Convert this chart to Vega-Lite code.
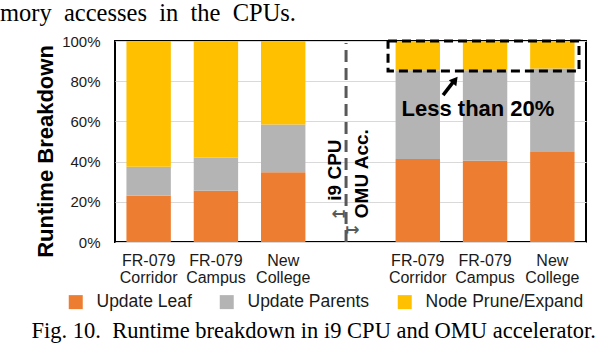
{
  "$schema": "https://vega.github.io/schema/vega-lite/v6.json",
  "width": 471,
  "height": 201,
  "autosize": {"type": "none"},
  "padding": {"left": 115, "top": 41, "right": 16, "bottom": 102},
  "background": "white",
  "title": {
    "text": "mory\u00a0 accesses\u00a0 in\u00a0 the\u00a0 CPUs.",
    "anchor": "start",
    "frame": "group",
    "font": "Liberation Serif",
    "fontSize": 24.5,
    "fontWeight": "normal",
    "color": "#000000",
    "baseline": "alphabetic",
    "dx": -115,
    "offset": 11,
    "dy": 22
  },
  "config": {
    "font": "Liberation Sans",
    "view": {"stroke": "#000000", "strokeWidth": 2}
  },
  "datasets": {
    "bars": [
      {"slot": "CPU|FR-079|Corridor", "part": "Update Leaf", "ord": 1, "value": 23},
      {"slot": "CPU|FR-079|Corridor", "part": "Update Parents", "ord": 2, "value": 14.5},
      {"slot": "CPU|FR-079|Corridor", "part": "Node Prune/Expand", "ord": 3, "value": 62.5},
      {"slot": "CPU|FR-079|Campus", "part": "Update Leaf", "ord": 1, "value": 25.5},
      {"slot": "CPU|FR-079|Campus", "part": "Update Parents", "ord": 2, "value": 16.6},
      {"slot": "CPU|FR-079|Campus", "part": "Node Prune/Expand", "ord": 3, "value": 57.9},
      {"slot": "CPU|New|College", "part": "Update Leaf", "ord": 1, "value": 34.7},
      {"slot": "CPU|New|College", "part": "Update Parents", "ord": 2, "value": 23.7},
      {"slot": "CPU|New|College", "part": "Node Prune/Expand", "ord": 3, "value": 41.6},
      {"slot": "OMU|FR-079|Corridor", "part": "Update Leaf", "ord": 1, "value": 41.3},
      {"slot": "OMU|FR-079|Corridor", "part": "Update Parents", "ord": 2, "value": 44.2},
      {"slot": "OMU|FR-079|Corridor", "part": "Node Prune/Expand", "ord": 3, "value": 14.5},
      {"slot": "OMU|FR-079|Campus", "part": "Update Leaf", "ord": 1, "value": 40.4},
      {"slot": "OMU|FR-079|Campus", "part": "Update Parents", "ord": 2, "value": 45.1},
      {"slot": "OMU|FR-079|Campus", "part": "Node Prune/Expand", "ord": 3, "value": 14.5},
      {"slot": "OMU|New|College", "part": "Update Leaf", "ord": 1, "value": 44.8},
      {"slot": "OMU|New|College", "part": "Update Parents", "ord": 2, "value": 41.5},
      {"slot": "OMU|New|College", "part": "Node Prune/Expand", "ord": 3, "value": 13.7}
    ],
    "vline": [
      {"slot": "gap", "off": 0.40, "y": 0, "y2": 99}
    ],
    "box": [
      {"slot": "OMU|FR-079|Corridor", "off": -0.17, "y": 100, "i": 1},
      {"slot": "OMU|New|College", "off": 1.10, "y": 100, "i": 2},
      {"slot": "OMU|New|College", "off": 1.10, "y": 85.1, "i": 3},
      {"slot": "OMU|FR-079|Corridor", "off": -0.17, "y": 85.1, "i": 4},
      {"slot": "OMU|FR-079|Corridor", "off": -0.17, "y": 100, "i": 5}
    ],
    "shaft": [
      {"slot": "OMU|FR-079|Corridor", "off": 1.07, "y": 73.1, "i": 1},
      {"slot": "OMU|FR-079|Corridor", "off": 1.33, "y": 80.5, "i": 2}
    ],
    "head": [
      {"slot": "OMU|FR-079|Corridor", "off": 1.34, "y": 80.6}
    ],
    "bigtext": [
      {"slot": "OMU|FR-079|Campus", "off": 0.34, "y": 66.2, "text": "Less than 20%"}
    ],
    "rottext": [
      {"slot": "gap", "off": 0.14, "y": 35.8, "text": "i9 CPU"},
      {"slot": "gap", "off": 0.76, "y": 34, "text": "OMU Acc."}
    ],
    "arrows": [
      {"slot": "gap", "off": 0.24, "y": 13.8, "text": "↤"},
      {"slot": "gap", "off": 0.54, "y": 6.2, "text": "↦"}
    ]
  },
  "resolve": {"scale": {"x": "independent"}, "axis": {"x": "independent"}},
  "layer": [
    {
      "data": {"name": "bars"},
      "mark": {"type": "bar", "width": 44.4},
      "encoding": {
        "x": {
          "field": "slot",
          "type": "nominal",
          "sort": null,
          "scale": {
            "domain": ["CPU|FR-079|Corridor", "CPU|FR-079|Campus", "CPU|New|College", "gap", "OMU|FR-079|Corridor", "OMU|FR-079|Campus", "OMU|New|College"],
            "paddingInner": 0.34,
            "paddingOuter": 0.17
          },
          "title": "Fig. 10.\u00a0 Runtime breakdown in i9 CPU and OMU accelerator.",
          "axis": {
            "domain": false,
            "ticks": false,
            "labelAngle": 0,
            "labelFont": "Liberation Sans",
            "labelFontSize": 16,
            "labelColor": "#1a1a1a",
            "labelPadding": 10,
            "labelLineHeight": 17.5,
            "labelExpr": "datum.label == 'gap' ? '' : slice(split(datum.label, '|'), 1)",
            "titleFont": "Liberation Serif",
            "titleFontSize": 22.5,
            "titleFontWeight": "normal",
            "titleColor": "#000000",
            "titleAlign": "left",
            "titleAnchor": "start",
            "titleBaseline": "alphabetic",
            "titleX": -84,
            "titleY": 95
          }
        },
        "y": {
          "field": "value",
          "type": "quantitative",
          "stack": "zero",
          "scale": {"domain": [0, 100], "nice": false},
          "title": "Runtime Breakdown",
          "axis": {
            "domain": false,
            "ticks": false,
            "grid": true,
            "gridColor": "#D9D9D9",
            "gridWidth": 1,
            "values": [0, 20, 40, 60, 80, 100],
            "labelExpr": "datum.value + '%'",
            "labelFont": "Liberation Sans",
            "labelFontSize": 15,
            "labelColor": "#1a1a1a",
            "labelPadding": 15,
            "titleFont": "Liberation Sans",
            "titleFontSize": 22,
            "titleFontWeight": "bold",
            "titleColor": "#000000",
            "titleAngle": -90,
            "titleAlign": "center",
            "titleBaseline": "alphabetic",
            "titleX": -63,
            "titleY": 110
          }
        },
        "color": {
          "field": "part",
          "type": "nominal",
          "scale": {
            "domain": ["Update Leaf", "Update Parents", "Node Prune/Expand"],
            "range": ["#ED7D31", "#B4B4B4", "#FFC000"]
          },
          "legend": {
            "orient": "none",
            "legendX": -48,
            "legendY": 252,
            "direction": "horizontal",
            "title": null,
            "padding": 0,
            "symbolType": "square",
            "symbolSize": 196,
            "symbolStrokeWidth": 0,
            "labelFont": "Liberation Sans",
            "labelFontSize": 17.5,
            "labelColor": "#1a1a1a",
            "labelOffset": 12,
            "columnPadding": 26
          }
        },
        "order": {"field": "ord", "type": "quantitative"}
      }
    },
    {
      "encoding": {
        "x": {
          "field": "slot",
          "type": "nominal",
          "sort": null,
          "axis": null,
          "scale": {
            "domain": ["CPU|FR-079|Corridor", "CPU|FR-079|Campus", "CPU|New|College", "gap", "OMU|FR-079|Corridor", "OMU|FR-079|Campus", "OMU|New|College"],
            "paddingInner": 0.34,
            "paddingOuter": 0.17
          }
        },
        "xOffset": {"field": "off", "type": "quantitative", "scale": {"domain": [0, 1], "nice": false, "zero": false}},
        "y": {"field": "y", "type": "quantitative"}
      },
      "layer": [
        {
          "data": {"name": "vline"},
          "mark": {"type": "rule", "color": "#595959", "strokeWidth": 3, "strokeDash": [12, 6]},
          "encoding": {
            "y2": {"field": "y2"}
          }
        },
        {
          "data": {"name": "box"},
          "mark": {"type": "line", "color": "#000000", "strokeWidth": 3, "strokeDash": [9, 5]},
          "encoding": {
            "order": {"field": "i", "type": "quantitative"}
          }
        },
        {
          "data": {"name": "shaft"},
          "mark": {"type": "line", "color": "#000000", "strokeWidth": 3.5},
          "encoding": {
            "order": {"field": "i", "type": "quantitative"}
          }
        },
        {
          "data": {"name": "head"},
          "mark": {"type": "point", "shape": "triangle-up", "filled": true, "color": "#000000", "opacity": 1, "size": 90, "angle": 38},
          "encoding": {}
        },
        {
          "data": {"name": "bigtext"},
          "mark": {"type": "text", "font": "Liberation Sans", "fontSize": 22, "fontWeight": "bold", "color": "#000000", "align": "center", "baseline": "middle"},
          "encoding": {
            "text": {"field": "text"}
          }
        },
        {
          "data": {"name": "rottext"},
          "mark": {"type": "text", "font": "Liberation Sans", "fontSize": 19, "fontWeight": "bold", "color": "#000000", "align": "center", "baseline": "middle", "angle": -90},
          "encoding": {
            "text": {"field": "text"}
          }
        },
        {
          "data": {"name": "arrows"},
          "mark": {"type": "text", "font": "DejaVu Sans", "fontSize": 17, "fontWeight": "bold", "color": "#595959", "align": "center", "baseline": "middle"},
          "encoding": {
            "text": {"field": "text"}
          }
        }
      ]
    }
  ]
}
